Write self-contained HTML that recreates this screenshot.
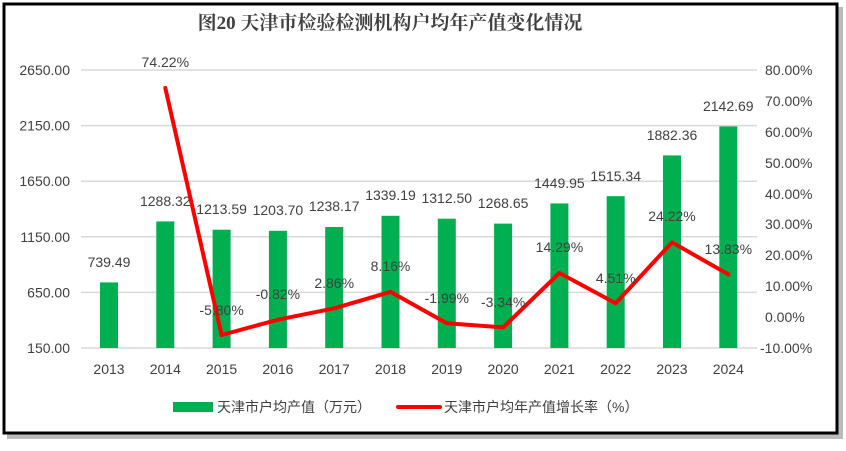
<!DOCTYPE html>
<html><head><meta charset="utf-8"><style>
body{margin:0;background:#fff;}
svg text{font-family:"Liberation Sans","Noto Sans CJK SC",sans-serif;fill:#404040;}
</style></head><body>
<svg width="846" height="446" viewBox="0 0 846 446" xmlns="http://www.w3.org/2000/svg">
<rect x="7" y="7" width="836" height="432" fill="#bbb"/>
<rect x="4" y="4" width="833" height="429" fill="#fff" stroke="#000" stroke-width="3"/>
<text x="390" y="29" text-anchor="middle" font-size="19" font-weight="bold" style="font-family:'Liberation Serif','Noto Serif CJK SC',serif">图20  天津市检验检测机构户均年产值变化情况</text>
<g stroke="#d9d9d9" stroke-width="1.5">
<line x1="81" y1="70" x2="757" y2="70"/><line x1="81" y1="125.6" x2="757" y2="125.6"/><line x1="81" y1="181.2" x2="757" y2="181.2"/><line x1="81" y1="236.8" x2="757" y2="236.8"/><line x1="81" y1="292.4" x2="757" y2="292.4"/><line x1="81" y1="348" x2="757" y2="348"/>
</g>
<g font-size="14" text-anchor="end">
<text x="70" y="75">2650.00</text><text x="70" y="130.6">2150.00</text><text x="70" y="186.2">1650.00</text><text x="70" y="241.8">1150.00</text><text x="70" y="297.4">650.00</text><text x="70" y="353">150.00</text>
</g>
<g font-size="14" text-anchor="start">
<text x="765" y="75">80.00%</text><text x="765" y="106">70.00%</text><text x="765" y="137">60.00%</text><text x="765" y="168">50.00%</text><text x="765" y="199">40.00%</text><text x="765" y="229">30.00%</text><text x="765" y="260">20.00%</text><text x="765" y="291">10.00%</text><text x="765" y="322">0.00%</text><text x="760" y="353">-10.00%</text>
</g>
<g fill="#00b050">
<rect x="100" y="282.4" width="18" height="65.6"/><rect x="156.3" y="221.4" width="18" height="126.6"/><rect x="212.6" y="229.7" width="18" height="118.3"/><rect x="268.9" y="230.8" width="18" height="117.2"/><rect x="325.2" y="227" width="18" height="121"/><rect x="381.5" y="215.8" width="18" height="132.2"/><rect x="437.8" y="218.7" width="18" height="129.3"/><rect x="494.1" y="223.6" width="18" height="124.4"/><rect x="550.4" y="203.4" width="18" height="144.6"/><rect x="606.7" y="196.2" width="18" height="151.8"/><rect x="663" y="155.4" width="18" height="192.6"/><rect x="719.3" y="126.4" width="18" height="221.6"/>
</g>
<g font-size="14" text-anchor="middle">
<text x="109" y="267">739.49</text><text x="165.3" y="206">1288.32</text><text x="221.6" y="214">1213.59</text><text x="277.9" y="215">1203.70</text><text x="334.2" y="211">1238.17</text><text x="390.5" y="200">1339.19</text><text x="446.8" y="203">1312.50</text><text x="503.1" y="208">1268.65</text><text x="559.4" y="188">1449.95</text><text x="615.7" y="181">1515.34</text><text x="672" y="140">1882.36</text><text x="728.3" y="111">2142.69</text>
</g>
<g font-size="14" text-anchor="middle">
<text x="109" y="374">2013</text><text x="165.3" y="374">2014</text><text x="221.6" y="374">2015</text><text x="277.9" y="374">2016</text><text x="334.2" y="374">2017</text><text x="390.5" y="374">2018</text><text x="446.8" y="374">2019</text><text x="503.1" y="374">2020</text><text x="559.4" y="374">2021</text><text x="615.7" y="374">2022</text><text x="672" y="374">2023</text><text x="728.3" y="374">2024</text>
</g>
<polyline fill="none" stroke="#ff0000" stroke-width="4" stroke-linejoin="round" stroke-linecap="round" points="165.3,87.9 221.6,335 277.9,319.7 334.2,308.3 390.5,291.9 446.8,323.3 503.1,327.4 559.4,273 615.7,303.2 672,242.3 728.3,274.4"/>
<g font-size="14" text-anchor="middle">
<text x="165.3" y="67">74.22%</text><text x="221.6" y="315">-5.80%</text><text x="277.9" y="299">-0.82%</text><text x="334.2" y="288">2.86%</text><text x="390.5" y="271">8.16%</text><text x="446.8" y="303">-1.99%</text><text x="503.1" y="307">-3.34%</text><text x="559.4" y="252">14.29%</text><text x="615.7" y="283">4.51%</text><text x="672" y="221">24.22%</text><text x="728.3" y="254">13.83%</text>
</g>
<rect x="173" y="402" width="40" height="10" fill="#00b050"/>
<text x="217" y="412" font-size="14">天津市户均产值（万元）</text>
<line x1="398" y1="407" x2="440" y2="407" stroke="#ff0000" stroke-width="4" stroke-linecap="round"/>
<text x="444" y="412" font-size="14">天津市户均年产值增长率（%）</text>
</svg>
</body></html>
